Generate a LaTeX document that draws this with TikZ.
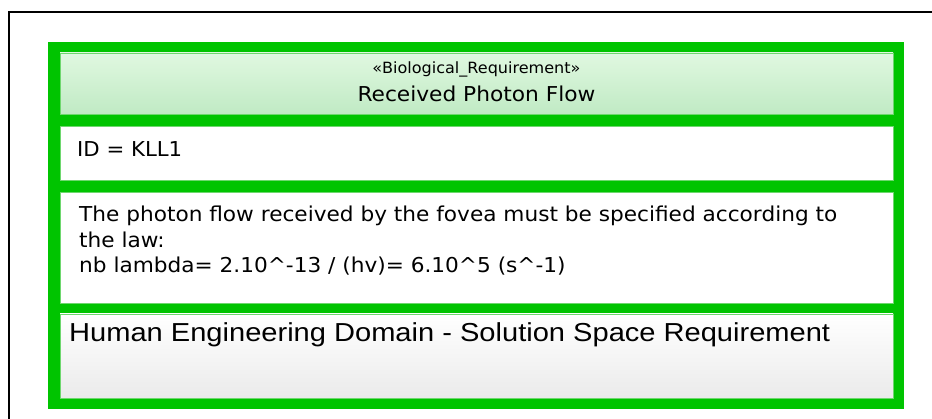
\documentclass[tikz,border=0pt]{standalone}
\usepackage{fontspec}
\setmainfont{DejaVu Sans}
\newfontfamily\arialf{Liberation Sans}
\definecolor{reqgreen}{RGB}{0,196,0}
\definecolor{hdtop}{RGB}{224,248,224}
\definecolor{hdbot}{RGB}{192,234,196}
\definecolor{edgegreen}{RGB}{110,215,110}
\begin{document}
\begin{tikzpicture}[x=1pt,y=-1pt,
  compbox/.style={draw=edgegreen,line width=0.8pt,fill=white},
  txt/.style={inner sep=0pt,anchor=base west}]
\useasboundingbox (0,0) rectangle (932,419);
% outer frame
\draw[line width=2pt,black] (9,419) -- (9,12) -- (932,12);
% green block
\fill[reqgreen] (48,42) rectangle (904,409);
% header
\shade[top color=hdtop,bottom color=hdbot] (60,53) rectangle (893,114);
\draw[edgegreen,line width=0.8pt] (60,53) rectangle (893,114);
\node[inner sep=0pt,anchor=base] (stereo) at (476.5,74)
  {\resizebox{208pt}{\height}{\fontsize{15.5}{18}\selectfont «Biological\_Requirement»}};
\node[inner sep=0pt,anchor=base] (title) at (476.5,102)
  {\resizebox{238pt}{\height}{\fontsize{20.5}{24}\selectfont Received Photon Flow}};
% ID
\draw[compbox] (60,126) rectangle (893,180);
\node[txt] (id) at (77,157)
  {\resizebox{105pt}{\height}{\fontsize{20.5}{24}\selectfont ID = KLL1}};
% description
\draw[compbox] (60,192) rectangle (893,303);
\node[txt] (desc) at (79,222)
  {\resizebox{758pt}{\height}{\fontsize{20.5}{25.5}\selectfont\begin{tabular}[t]{@{}l@{}}The photon flow received by the fovea must be specified according to\\the law:\\nb lambda= 2.10\^{}-13 / (hv)= 6.10\^{}5 (s\^{}-1)\end{tabular}}};
% domain
\shade[top color=white,middle color=white,bottom color=black!8] (60,314) rectangle (893,398);
\draw[edgegreen,line width=0.8pt] (60,314) rectangle (893,398);
\node[txt] (domain) at (69,342)
  {\resizebox{761pt}{\height}{\arialf\fontsize{26}{30}\selectfont Human Engineering Domain - Solution Space Requirement}};
\end{tikzpicture}
\end{document}
